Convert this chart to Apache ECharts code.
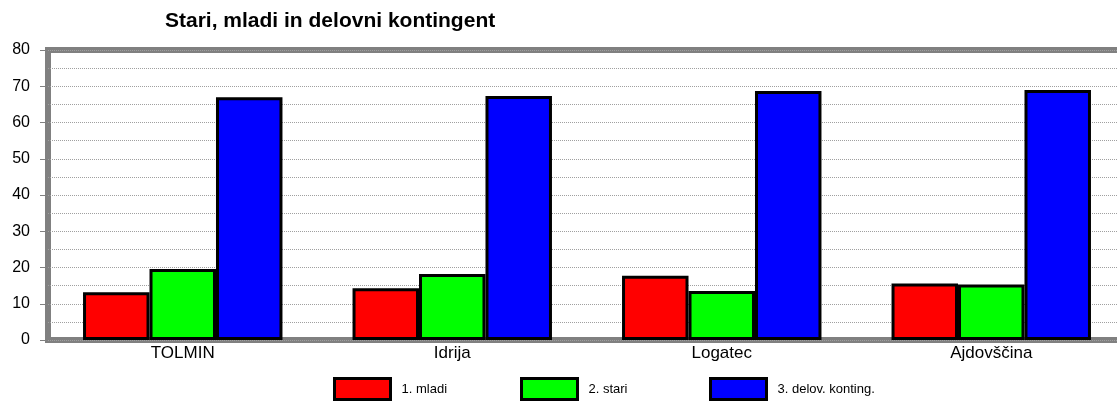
<!DOCTYPE html>
<html>
<head>
<meta charset="utf-8">
<script src="https://cdn.jsdelivr.net/npm/echarts@6/dist/echarts.min.js"></script>
<style>
  html, body { margin: 0; padding: 0; background: #fff; }
  #chart { width: 1117px; height: 402px; }
</style>
</head>
<body>
<div id="chart"></div>
<script>
// data
const categories = ['TOLMIN', 'Idrija', 'Logatec', 'Ajdovščina']
const mladi = [13.2, 14.3, 17.7, 15.6]
const stari = [19.6, 18.2, 13.5, 15.3]
const kontingent = [67.0, 67.3, 68.7, 69.0]
const seriesNames = ['1. mladi', '2. stari', '3. delov. konting.']
const seriesColors = ['#ff0000', '#00ff00', '#0000ff']

const font = 'Liberation Sans, Arial, sans-serif'
const chart = echarts.init(document.getElementById('chart'))

// one legend per item so they sit at fixed spots like the original
const legendLefts = [333, 520, 709]
const legends = seriesNames.map((name, i) => ({
    data: [name],
    left: legendLefts[i],
    top: 377,
    padding: 0,
    itemWidth: 56,
    itemHeight: 21,
    icon: 'rect',
    itemStyle: { borderColor: '#000', borderWidth: 3 },
    textStyle: { fontSize: 13, color: '#000', fontFamily: font, padding: [0, 0, 0, 6] },
    selectedMode: false
}))

const bar = (name, data, color) => ({
    name: name,
    type: 'bar',
    data: data,
    barGap: '0%',
    barCategoryGap: '26%',
    itemStyle: { color: color, borderColor: '#000', borderWidth: 3 }
})

chart.setOption({
    animation: false,
    textStyle: { fontFamily: font },
    title: {
        text: 'Stari, mladi in delovni kontingent',
        left: 165,
        top: 11,
        padding: 0,
        textStyle: { fontSize: 21, fontWeight: 'bold', color: '#000', fontFamily: font }
    },
    legend: legends,
    grid: {
        left: 48,
        right: -9,
        top: 50,
        bottom: 62,
        outerBoundsMode: 'none',
        show: true,
        borderColor: '#808080',
        borderWidth: 6,
        backgroundColor: '#fff'
    },
    xAxis: {
        type: 'category',
        data: categories,
        axisLine: { show: false },
        axisTick: { show: false },
        axisLabel: { color: '#000', fontSize: 17, margin: 5, fontFamily: font }
    },
    yAxis: {
        type: 'value',
        min: 0,
        max: 80,
        interval: 10,
        axisLine: { show: false },
        axisTick: { show: true, length: 8, lineStyle: { color: '#808080' } },
        axisLabel: { color: '#000', fontSize: 16, margin: 18, fontFamily: font },
        splitLine: { show: true, lineStyle: { color: '#a0a0a0', type: 'dotted', width: 1 } },
        minorTick: { show: false, splitNumber: 2 },
        minorSplitLine: { show: true, lineStyle: { color: '#a0a0a0', type: 'dotted', width: 1 } }
    },
    series: [
        bar(seriesNames[0], mladi, seriesColors[0]),
        bar(seriesNames[1], stari, seriesColors[1]),
        bar(seriesNames[2], kontingent, seriesColors[2])
    ]
})
</script>
</body>
</html>
